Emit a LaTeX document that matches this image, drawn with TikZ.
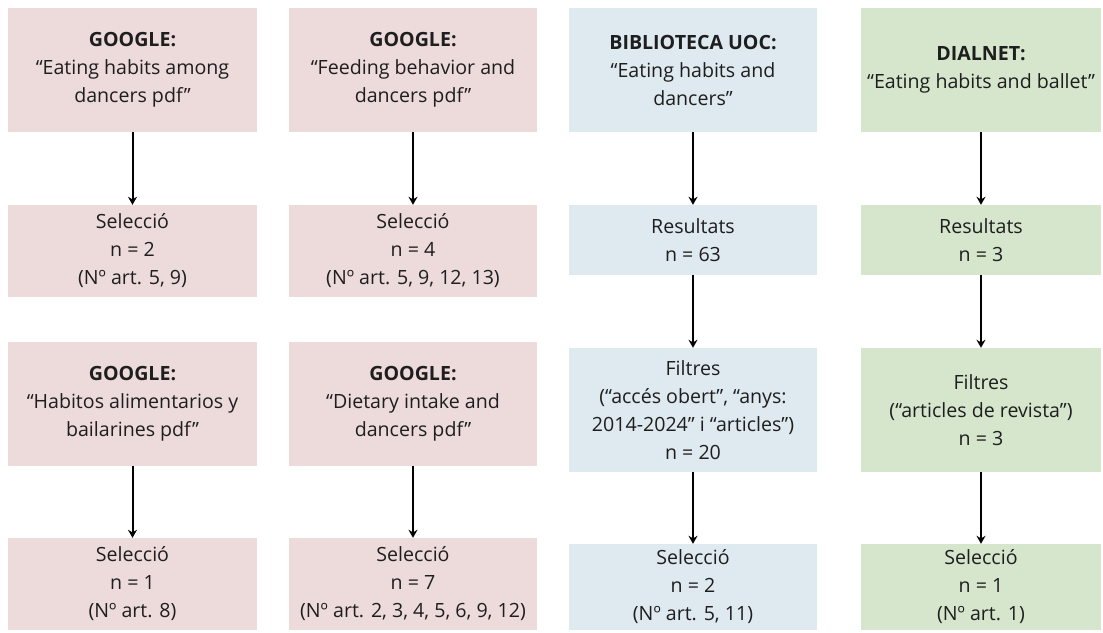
\documentclass[tikz,border=0pt]{standalone}
\usepackage{fontspec}
\setmainfont{Open Sans}
\usetikzlibrary{arrows.meta}
\definecolor{pinkbox}{RGB}{237,218,219}
\definecolor{bluebox}{RGB}{223,233,240}
\definecolor{greenbox}{RGB}{213,230,204}
\definecolor{txt}{RGB}{30,30,30}
\tikzset{
  box/.style={inner sep=0pt, align=center, text=txt,
    font=\fontsize{19.6}{28}\selectfont},
  pbox/.style={box, fill=pinkbox},
  bbox/.style={box, fill=bluebox},
  gbox/.style={box, fill=greenbox},
  arr/.style={-{Stealth[length=8pt,width=9pt]}, line width=2pt, black},
}
\begin{document}
\begin{tikzpicture}[x=1pt,y=-1pt]
\useasboundingbox (0,0) rectangle (1103,632);
% column 1
\node[pbox, minimum width=249pt, minimum height=124pt] (a1) at (132.5,70) {\textbf{GOOGLE:}\\“Eating habits among\\dancers pdf”};
\node[pbox, minimum width=249pt, minimum height=92pt] (a2) at (132.5,251) {Selecció\\n = 2\\(Nº art. 5, 9)};
\node[pbox, minimum width=249pt, minimum height=124pt] (a3) at (132.5,404) {\textbf{GOOGLE:}\\“Habitos alimentarios y\\bailarines pdf”};
\node[pbox, minimum width=249pt, minimum height=92pt] (a4) at (132.5,584) {Selecció\\n = 1\\(Nº art. 8)};
% column 2
\node[pbox, minimum width=248pt, minimum height=124pt] (b1) at (413,70) {\textbf{GOOGLE:}\\“Feeding behavior and\\dancers pdf”};
\node[pbox, minimum width=248pt, minimum height=92pt] (b2) at (413,251) {Selecció\\n = 4\\(Nº art. 5, 9, 12, 13)};
\node[pbox, minimum width=248pt, minimum height=124pt] (b3) at (413,404) {\textbf{GOOGLE:}\\“Dietary intake and\\dancers pdf”};
\node[pbox, minimum width=248pt, minimum height=92pt] (b4) at (413,584) {Selecció\\n = 7\\(Nº art. 2, 3, 4, 5, 6, 9, 12)};
% column 3
\node[bbox, minimum width=248pt, minimum height=124pt] (c1) at (693,70) {\textbf{BIBLIOTECA UOC:}\\“Eating habits and\\dancers”};
\node[bbox, minimum width=248pt, minimum height=70pt] (c2) at (693,240) {Resultats\\n = 63};
\node[bbox, minimum width=248pt, minimum height=124pt] (c3) at (693,410) {Filtres\\(“accés obert”, “anys:\\2014-2024” i “articles”)\\n = 20};
\node[bbox, minimum width=248pt, minimum height=86pt] (c4) at (693,587) {Selecció\\n = 2\\(Nº art. 5, 11)};
% column 4
\node[gbox, minimum width=240pt, minimum height=124pt] (d1) at (981,70) {\textbf{DIALNET:}\\“Eating habits and ballet”};
\node[gbox, minimum width=240pt, minimum height=70pt] (d2) at (981,240) {Resultats\\n = 3};
\node[gbox, minimum width=240pt, minimum height=124pt] (d3) at (981,410) {Filtres\\(“articles de revista”)\\n = 3};
\node[gbox, minimum width=240pt, minimum height=86pt] (d4) at (981,587) {Selecció\\n = 1\\(Nº art. 1)};
% arrows
\draw[arr] (a1) -- (a2);
\draw[arr] (a3) -- (a4);
\draw[arr] (b1) -- (b2);
\draw[arr] (b3) -- (b4);
\draw[arr] (c1) -- (c2);
\draw[arr] (c2) -- (c3);
\draw[arr] (c3) -- (c4);
\draw[arr] (d1) -- (d2);
\draw[arr] (d2) -- (d3);
\draw[arr] (d3) -- (d4);
\end{tikzpicture}
\end{document}
